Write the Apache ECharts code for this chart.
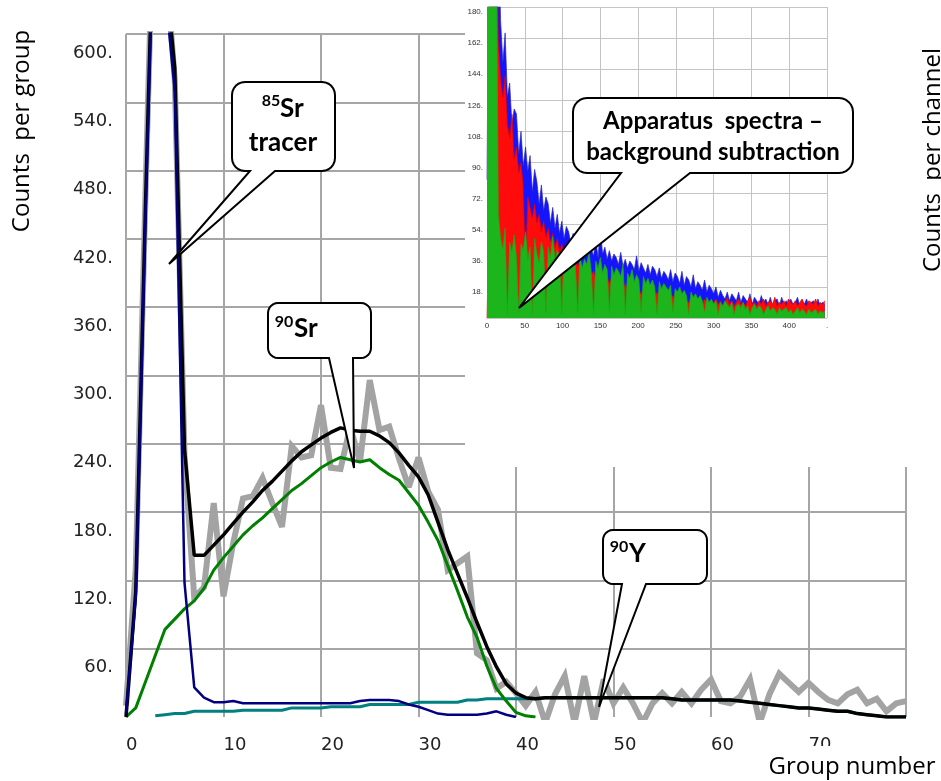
<!DOCTYPE html>
<html><head><meta charset="utf-8">
<script src="https://cdn.jsdelivr.net/npm/echarts@6/dist/echarts.min.js"></script>
<style>html,body{margin:0;padding:0;background:#fff}#c{width:941px;height:781px}</style>
</head><body><div id="c"></div>
<script>
// ---------- main chart data (counts per group, group 0..80) ----------
const rawCounts = [
  10,130,460,770,670,560,230,105,114,188,
  106,153,192,194,210,188,167,238,228,230,
  274,219,218,255,224,296,252,255,227,202,
  228,198,182,129,135,141,56,50,25,31,
  21,10,22,-5,20,36,-5,36,-5,33,
  12,26,12,-5,12,21,12,22,12,24,
  33,14,12,18,33,-5,20,38,30,22,
  30,22,15,12,20,24,12,16,5,12,14
];
const fitTotal = [
  0,110,450,760,660,570,235,142,142,151,
  160,170,180,189,199,207,216,225,233,239,
  245,250,254,252,251,251,247,241,232,221,
  211,195,171,147,126,105,83,62,44,29,
  21,17,16,17,17,17,17,17,17,17,
  17,17,17,17,17,17,16,15,15,15,
  15,15,15,14,13,12,11,10,9,8,
  8,7,6,5,5,3,2,1,0,0,0
];
const sr85Tracer = [
  3,105,440,750,640,550,118,26,17,13,
  13,14,12,12,12,12,12,12,12,12,
  12,12,12,12,14,15,15,15,14,11,
  9,6,3,2,2,2,2,3,5,2,0
];
const sr90 = [
  0,8,31,54,77,86,95,102,113,129,
  140,150,160,168,175,183,191,199,205,212,
  219,224,228,226,224,226,219,213,208,197,
  186,171,155,133,111,88,70,45,25,14,
  4,1,0
];
const y90 = [
  null,null,null,1,2,3,3,5,5,5,
  5,5,6,6,6,6,6,8,8,8,
  8,9,9,9,9,11,11,11,11,11,
  13,13,13,13,13,15,15,16,16,16,
  16,16,16,17,17,17,17,17,17,17,
  17,17,17,17,17,17,16,15,15,15,
  15,15,15,14,13,12,11,10,9,8,
  8,7,6,5,5,3,2,1,0,0,0
];
const mainXTicks = [0,10,20,30,40,50,60,70,80];
const mainYTicks = [0,60,120,180,240,300,360,420,480,540,600];

// ---------- inset data (counts per channel, channel step 3) ----------
const insetStep = 3;
const insetBlue = [
  80,250,250,250,250,230,172,148,165,128,
  136,112,121,118,95,108,88,99,85,94,
  73,86,79,66,77,62,70,66,55,64,
  52,60,49,56,46,53,50,43,49,41,
  47,44,39,50,38,43,40,36,45,35,
  52,37,41,34,39,33,37,35,31,38,
  30,34,29,33,31,28,36,27,32,29,
  26,31,25,30,28,24,29,23,27,25,
  22,28,21,26,24,20,27,19,24,22,
  18,25,17,21,19,16,22,15,19,17,
  14,18,12,16,13,11,15,10,14,12,
  10,15,9,13,11,9,14,8,12,10,
  8,13,9,11,8,12,7,10,11,7,
  12,8,10,7,11,8,9,12,7,10,
  8,11,7,9,10,6,11,7,9,8
];
const insetRed = [
  0,60,250,250,250,160,138,128,140,112,
  104,118,92,99,84,90,76,30,70,64,
  58,66,55,60,50,56,47,52,44,49,
  41,46,38,43,36,40,33,38,31,35,
  30,33,28,31,26,29,25,27,23,26,
  22,25,21,24,20,23,19,22,18,21,
  17,20,16,19,17,15,18,16,14,17,
  15,13,16,14,12,15,13,14,12,11,
  14,12,13,11,10,13,11,12,10,9,
  12,10,11,9,10,8,11,9,10,8,
  9,11,8,10,7,9,12,8,10,7,
  9,11,8,9,7,10,12,8,9,7,
  10,8,11,7,9,10,8,12,7,9,
  8,10,7,11,9,8,10,7,9,11,
  8,7,10,9,8,11,7,9,8,10
];
const insetGreen = [
  250,250,250,250,250,60,46,40,52,2,
  44,38,48,35,3,43,39,50,34,41,
  2,46,37,32,44,38,3,41,35,47,
  33,39,36,2,40,31,37,34,42,30,
  3,36,29,34,31,38,27,2,33,29,
  35,26,31,28,3,30,25,29,27,24,
  31,2,26,23,28,21,25,22,3,24,
  20,23,19,22,18,2,21,17,20,18,
  16,19,3,17,15,18,14,16,13,2,
  15,12,14,11,13,10,3,12,9,11,
  8,10,2,9,7,10,8,6,9,2,
  7,8,6,9,5,7,2,6,8,5,
  7,6,2,5,7,4,6,5,2,6,
  4,5,6,3,5,2,4,6,3,5,
  4,2,5,3,4,5,2,4,3,4
];

const pairs = arr => arr.map((v, i) => [i, v]);
const insetPairs = arr => arr.map((v, i) => [i * insetStep, v]);

// rounded box with a pointer tail, as polygon outline
function arcPts(cx, cy, r, a0, a1) {
  const pts = [];
  for (let k = 0; k <= 6; k++) {
    const a = a0 + (a1 - a0) * k / 6;
    pts.push([cx + r * Math.cos(a), cy + r * Math.sin(a)]);
  }
  return pts;
}
function callout(x0, y0, x1, y1, r, b0, b1, tx, ty) {
  const P = Math.PI;
  let pts = [];
  pts = pts.concat(arcPts(x0 + r, y0 + r, r, P, 1.5 * P));
  pts = pts.concat(arcPts(x1 - r, y0 + r, r, 1.5 * P, 2 * P));
  pts = pts.concat(arcPts(x1 - r, y1 - r, r, 0, 0.5 * P));
  pts.push([b1, y1], [tx, ty], [b0, y1]);
  pts = pts.concat(arcPts(x0 + r, y1 - r, r, 0.5 * P, P));
  return { type: 'polygon', z: 30, silent: true,
    shape: { points: pts },
    style: { fill: '#fff', stroke: '#000', lineWidth: 2, lineJoin: 'miter', miterLimit: 3 } };
}
function txt(x, y, text, font, align, extra) {
  return Object.assign({ type: 'text', x: x, y: y, z: 31, silent: true,
    style: { text: text, font: font, fill: '#000', align: align || 'center', verticalAlign: 'middle' } }, extra || {});
}

const gridColor = '#a6a6a6';
const chart = echarts.init(document.getElementById('c'));
chart.setOption({
  animation: false,
  backgroundColor: '#fff',
  grid: [
    { left: 126, right: 35, top: 34, bottom: 64 },
    { left: 487, right: 114, top: 7, height: 311 }
  ],
  xAxis: [
    { type: 'value', gridIndex: 0, min: mainXTicks[0], max: mainXTicks[mainXTicks.length - 1], interval: 10,
      axisLine: { show: false }, axisTick: { show: false },
      splitLine: { show: true, lineStyle: { color: gridColor, width: 2 } },
      axisLabel: { fontFamily: 'DejaVu Sans', fontSize: 18, color: '#222', align: 'left', margin: 19,
        formatter: v => (v === 80 ? '' : String(v)) } },
    { type: 'value', gridIndex: 1, min: 0, max: 450, interval: 50, z: 11,
      axisLine: { show: false }, axisTick: { show: false },
      splitLine: { show: true, lineStyle: { color: '#c4c4c4', width: 1 } },
      axisLabel: { fontFamily: 'Liberation Sans', fontSize: 8, color: '#333', margin: 4,
        formatter: v => (v === 450 ? '.' : String(v)) } }
  ],
  yAxis: [
    { type: 'value', gridIndex: 0, min: mainYTicks[0], max: mainYTicks[mainYTicks.length - 1], interval: 60,
      axisLine: { show: false }, axisTick: { show: false },
      splitLine: { show: true, showMinLine: false, lineStyle: { color: gridColor, width: 2 } },
      axisLabel: { fontFamily: 'DejaVu Sans', fontSize: 18, color: '#222', margin: 13,
        verticalAlign: 'top', padding: [10, 0, 0, 0],
        formatter: v => (v === 0 ? '' : v + '.') } },
    { type: 'value', gridIndex: 1, min: 0, max: 180, interval: 18, z: 11,
      axisLine: { show: false }, axisTick: { show: false },
      splitLine: { show: true, lineStyle: { color: '#c4c4c4', width: 1 } },
      axisLabel: { fontFamily: 'Liberation Sans', fontSize: 8, color: '#333', margin: 4,
        verticalAlign: 'top', padding: [1, 0, 0, 0],
        formatter: v => (v === 0 ? '' : v + '.') } }
  ],
  series: [
    { name: 'measured', type: 'line', xAxisIndex: 0, yAxisIndex: 0, data: pairs(rawCounts), z: 2,
      showSymbol: false, lineStyle: { color: '#a3a3a3', width: 6, join: 'miter', miterLimit: 3 } },
    { name: '90Y', type: 'line', xAxisIndex: 0, yAxisIndex: 0, data: pairs(y90), z: 3,
      showSymbol: false, lineStyle: { color: '#008080', width: 3 } },
    { name: '90Sr', type: 'line', xAxisIndex: 0, yAxisIndex: 0, data: pairs(sr90), z: 4,
      showSymbol: false, lineStyle: { color: '#008000', width: 3 } },
    { name: 'total', type: 'line', xAxisIndex: 0, yAxisIndex: 0, data: pairs(fitTotal), z: 5,
      showSymbol: false, lineStyle: { color: '#000', width: 3.5 } },
    { name: '85Sr', type: 'line', xAxisIndex: 0, yAxisIndex: 0, data: pairs(sr85Tracer), z: 6,
      showSymbol: false, lineStyle: { color: '#000080', width: 2.5 } },

    { name: 'inset blue', type: 'line', xAxisIndex: 1, yAxisIndex: 1, data: insetPairs(insetBlue), z: 12,
      showSymbol: false, lineStyle: { color: '#2a2ab8', width: 0.7 }, areaStyle: { color: '#1414ff', opacity: 1 } },
    { name: 'inset red', type: 'line', xAxisIndex: 1, yAxisIndex: 1, data: insetPairs(insetRed), z: 13,
      showSymbol: false, lineStyle: { color: '#e00000', width: 0.7 }, areaStyle: { color: '#ff0b0b', opacity: 1 } },
    { name: 'inset green', type: 'line', xAxisIndex: 1, yAxisIndex: 1, data: insetPairs(insetGreen), z: 14,
      showSymbol: false, lineStyle: { color: '#18ad18', width: 0.7 }, areaStyle: { color: '#1cb51c', opacity: 1 } }
  ],
  graphic: [
    { type: 'rect', z: 10, silent: true, shape: { x: 465, y: 0, width: 476, height: 467 }, style: { fill: '#fff' } },
    { type: 'rect', z: 10, silent: true, shape: { x: 800, y: 746, width: 40, height: 12 }, style: { fill: '#fff' } },

    callout(232, 82, 335, 171, 13, 250, 275, 169, 264),
    txt(271, 101, '85', 'bold 16px Lato'),
    txt(280, 109, 'Sr', 'bold 26px Lato', 'left'),
    txt(283, 143, 'tracer', 'bold 26px Lato'),

    callout(268, 303, 371, 358, 10, 329, 353, 354, 468),
    txt(284, 322, '90', 'bold 16px Lato'),
    txt(294, 329, 'Sr', 'bold 26px Lato', 'left'),

    callout(603, 530, 707, 584, 10, 622, 646, 599, 707),
    txt(619, 547, '90', 'bold 16px Lato'),
    txt(629, 554, 'Y', 'bold 26px Lato', 'left'),

    callout(573, 98, 853, 173, 14, 621, 690, 519, 308),
    txt(713, 121, 'Apparatus  spectra \u2013', 'bold 24px Lato'),
    txt(713, 152, 'background subtraction', 'bold 24px Lato'),

    txt(22, 131, 'Counts  per group', '24px "Open Sans"', 'center', { rotation: Math.PI / 2 }),
    txt(933, 160, 'Counts  per channel', '24px "Open Sans"', 'center', { rotation: Math.PI / 2 }),
    txt(852, 767, 'Group number', '24px "Open Sans"', 'center')
  ]
});
</script>
</body></html>
